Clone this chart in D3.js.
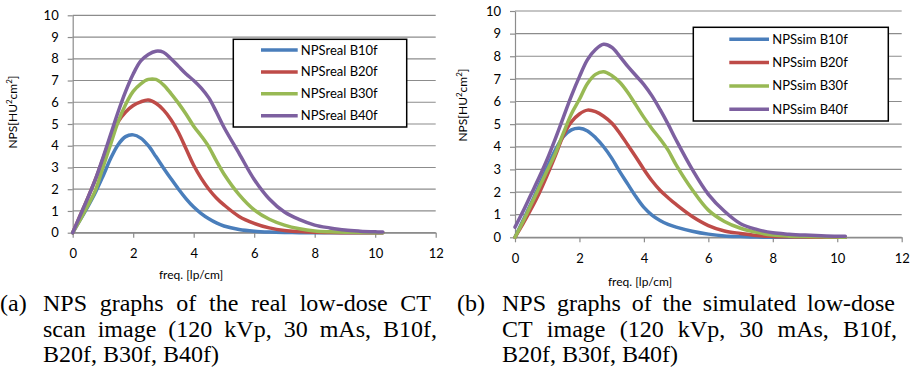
<!DOCTYPE html>
<html lang="en">
<head>
<meta charset="utf-8">
<title>NPS graphs</title>
<script src="https://cdn.jsdelivr.net/npm/d3@7"></script>
<style>
  body { margin: 0; background: #fff; }
  svg { display: block; }
  .cap { font-family: "Liberation Serif", "Times New Roman", Tinos, "DejaVu Serif", serif; font-size: 24px; }
</style>
</head>
<body>
<svg id="fig" width="917" height="372"></svg>
<script>

// sample frequencies (lp/cm), shared by every curve
var freq = [0,0.25,0.5,0.75,1,1.25,1.5,1.75,2,2.25,2.5,2.75,3,3.25,3.5,3.75,4,4.25,4.5,4.75,5,5.5,6,6.5,7,7.5,8,8.5,9,9.5,10,10.25];

// (a) real low-dose CT
var realB10f = [0,0.6,1.2,1.85,2.6,3.4,4.05,4.42,4.5,4.35,4.0,3.5,2.98,2.48,2.0,1.56,1.18,0.88,0.64,0.45,0.31,0.15,0.07,0.03,0.01,0,0,0,0,0,0,0];
var realB20f = [0,0.8,1.6,2.45,3.4,4.35,5.1,5.55,5.85,6.02,6.1,5.95,5.65,5.2,4.6,3.85,3.1,2.5,2.0,1.6,1.28,0.75,0.43,0.22,0.1,0.05,0.02,0.01,0,0,0,0];
var realB30f = [0,0.6,1.25,1.95,3.0,4.05,5.1,5.9,6.5,6.85,7.05,7.05,6.8,6.4,5.95,5.45,4.9,4.45,3.95,3.3,2.7,1.75,1.05,0.62,0.35,0.18,0.08,0.04,0.02,0.01,0,0];
var realB40f = [0,0.8,1.6,2.45,3.45,4.5,5.55,6.5,7.3,7.9,8.2,8.35,8.3,8.0,7.65,7.3,7.0,6.65,6.2,5.55,4.85,3.65,2.45,1.55,0.95,0.6,0.35,0.22,0.12,0.07,0.04,0.03];

// (b) simulated low-dose CT
var simB10f = [0,0.75,1.5,2.3,3.1,3.85,4.45,4.75,4.82,4.7,4.4,4.0,3.5,2.9,2.35,1.8,1.32,0.98,0.74,0.57,0.45,0.27,0.14,0.06,0.03,0.01,0,0,0,0,0,0];
var simB20f = [0,0.6,1.25,1.95,2.75,3.6,4.5,5.1,5.45,5.62,5.55,5.35,5.05,4.6,4.08,3.55,3.0,2.5,2.08,1.75,1.45,0.92,0.52,0.28,0.17,0.08,0.04,0.02,0.01,0,0,0];
var simB30f = [0,0.7,1.45,2.2,2.95,3.7,4.6,5.45,6.1,6.8,7.2,7.32,7.15,6.85,6.4,5.85,5.3,4.8,4.35,3.85,3.2,2.1,1.2,0.7,0.4,0.22,0.1,0.05,0.03,0.02,0.01,0];
var simB40f = [0.45,1.15,1.9,2.65,3.45,4.35,5.3,6.25,7.1,7.85,8.3,8.53,8.4,8.0,7.55,7.15,6.75,6.25,5.65,5.0,4.3,3.0,1.9,1.15,0.6,0.35,0.2,0.14,0.1,0.07,0.05,0.05];

var kernels = ["B10f","B20f","B30f","B40f"];
var xTicks = [0,2,4,6,8,10,12];
var yTicks = [0,1,2,3,4,5,6,7,8,9,10];
var xTitle = "freq. [lp/cm]";

var colors = ["#4a7ebb","#be4b48","#98b954","#7d60a0"];
var chartFont = "Lato, 'Open Sans', sans-serif";

var svg = d3.select("#fig");
svg.append("rect").attr("width", 917).attr("height", 372).attr("fill", "#fff");

function drawPanel(p) {
  var x = d3.scaleLinear().domain([0, 12]).range([p.left, p.right]);
  var y = d3.scaleLinear().domain([0, 10]).range([p.bottom, p.top]);
  var g = svg.append("g");

  // horizontal grid
  g.selectAll(".grid").data(yTicks).enter().append("line")
    .attr("x1", p.left).attr("x2", p.right)
    .attr("y1", function(d){ return y(d); })
    .attr("y2", function(d){ return y(d); })
    .attr("stroke", "#8c8c8c").attr("stroke-width", 1.2);

  var yAxis = g.append("g")
    .attr("transform", "translate(" + p.left + ",0)")
    .call(d3.axisLeft(y).tickValues(yTicks).tickSize(5).tickSizeOuter(0).tickPadding(9));
  var xAxis = g.append("g")
    .attr("transform", "translate(0," + p.bottom + ")")
    .call(d3.axisBottom(x).tickValues(xTicks).tickSize(5).tickSizeOuter(0).tickPadding(p.xPad));
  [yAxis, xAxis].forEach(function(a){
    a.select(".domain").attr("stroke", "#8c8c8c").attr("stroke-width", 1.2);
    a.selectAll(".tick line").attr("stroke", "#8c8c8c").attr("stroke-width", 1.2);
    a.selectAll(".tick text").attr("fill", "#000")
      .style("font-family", chartFont).style("font-size", "13px");
  });

  var line = d3.line()
    .x(function(d){ return x(d[0]); })
    .y(function(d){ return y(Math.max(0, d[1])); })
    .curve(d3.curveCatmullRom.alpha(0.5));

  p.series.forEach(function(vals, i){
    g.append("path")
      .datum(freq.map(function(f, k){ return [f, vals[k]]; }))
      .attr("d", line)
      .attr("fill", "none")
      .attr("stroke", colors[i])
      .attr("stroke-width", 3.5)
      .attr("stroke-linejoin", "round")
      .attr("stroke-linecap", "round");
  });

  // axis titles
  g.append("text")
    .attr("x", p.titleX).attr("y", p.titleY)
    .attr("text-anchor", "middle")
    .style("font-family", chartFont).style("font-size", "12px")
    .text(xTitle);

  var yt = g.append("text")
    .attr("transform", "translate(" + p.yTitleX + "," + p.yTitleY + ") rotate(-90)")
    .attr("text-anchor", "middle")
    .style("font-family", chartFont).style("font-size", "12px");
  yt.append("tspan").text("NPS[HU");
  yt.append("tspan").attr("dy", -5).style("font-size", "8px").text("2");
  yt.append("tspan").attr("dy", 5).text("cm");
  yt.append("tspan").attr("dy", -5).style("font-size", "8px").text("2");
  yt.append("tspan").attr("dy", 5).text("]");

  // legend
  var L = p.legend;
  var lg = g.append("g").attr("transform", "translate(" + L.x + "," + L.y + ")");
  lg.append("rect").attr("width", L.w).attr("height", L.h)
    .attr("fill", "#fff").attr("stroke", "#000").attr("stroke-width", 1.5);
  kernels.forEach(function(k, i){
    var ry = L.first + i * L.step;
    lg.append("line").attr("x1", L.l1).attr("x2", L.l2)
      .attr("y1", ry).attr("y2", ry)
      .attr("stroke", colors[i]).attr("stroke-width", 3.5);
    lg.append("text").attr("x", L.tx).attr("y", ry).attr("dy", "0.35em")
      .style("font-family", chartFont).style("font-size", "13px")
      .text(p.prefix + k);
  });
}

drawPanel({
  left: 72.7, right: 435.7, top: 15.3, bottom: 232.7, xPad: 11,
  series: [realB10f, realB20f, realB30f, realB40f],
  prefix: "NPSreal ",
  titleX: 191, titleY: 279, yTitleX: 17, yTitleY: 112,
  legend: { x: 233.3, y: 39.3, w: 173.4, h: 87.7, first: 10.7, step: 21.9, l1: 27.7, l2: 64.4, tx: 67.5 }
});

drawPanel({
  left: 515, right: 901.7, top: 11, bottom: 237.3, xPad: 11,
  series: [simB10f, simB20f, simB30f, simB40f],
  prefix: "NPSsim ",
  titleX: 640, titleY: 286, yTitleX: 467, yTitleY: 105,
  legend: { x: 693.3, y: 27.3, w: 195, h: 93.7, first: 12, step: 23.3, l1: 36, l2: 75.7, tx: 79 }
});

// captions, justified line by line
var captions = [
  { label: "(a)", lx: 0, x: 43, lines: [
      { t: "NPS graphs of the real low-dose CT", w: 388 },
      { t: "scan image (120 kVp, 30 mAs, B10f,", w: 394 },
      { t: "B20f, B30f, B40f)" } ] },
  { label: "(b)", lx: 457, x: 502, lines: [
      { t: "NPS graphs of the simulated low-dose", w: 393 },
      { t: "CT image (120 kVp, 30 mAs, B10f,", w: 395 },
      { t: "B20f, B30f, B40f)" } ] }
];
var baselines = [311, 337, 362];

function capWord(w, x, y) {
  return svg.append("text").attr("class", "cap").attr("x", x).attr("y", y).text(w);
}

captions.forEach(function(c){
  capWord(c.label, c.lx, baselines[0]);
  c.lines.forEach(function(ln, li){
    var words = ln.t.split(" ");
    var nodes = words.map(function(w){ return capWord(w, 0, baselines[li]); });
    var widths = nodes.map(function(n){ return n.node().getComputedTextLength(); });
    var gap = ln.w ? (ln.w - d3.sum(widths)) / (words.length - 1) : 6;
    var cx = c.x;
    nodes.forEach(function(n, i){
      n.attr("x", cx);
      cx += widths[i] + gap;
    });
  });
});

</script>
</body>
</html>
